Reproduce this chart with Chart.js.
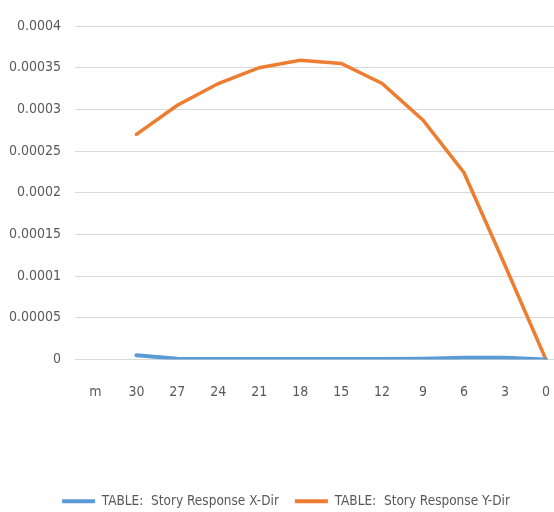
<!DOCTYPE html>
<html>
<head>
<meta charset="utf-8">
<script src="https://cdn.jsdelivr.net/npm/chart.js@4/dist/chart.umd.min.js"></script>
<style>
  html, body { margin: 0; padding: 0; background: #ffffff; overflow: hidden; width: 554px; height: 512px; }
  #wrap { position: absolute; left: 0; top: 0; width: 574px; height: 512px; }
</style>
</head>
<body>
<div id="wrap"><canvas id="c"></canvas></div>
<script>
const categories = ['m', '30', '27', '24', '21', '18', '15', '12', '9', '6', '3', '0'];
const xDir = [null, 0.000005, 0.000001, 0.0000005, 0.0000005, 0.0000005, 0.0000005, 0.0000005, 0.0000008, 0.000002, 0.000002, 0];
const yDir = [null, 0.00027, 0.000305, 0.000331, 0.00035, 0.000359, 0.000355, 0.000331, 0.000287, 0.000224, 0.000113, 0];
const seriesNames = ['TABLE:  Story Response X-Dir', 'TABLE:  Story Response Y-Dir'];
const yTicks = [0, 0.00005, 0.0001, 0.00015, 0.0002, 0.00025, 0.0003, 0.00035, 0.0004];
const yTickLabels = ['0', '0.00005', '0.0001', '0.00015', '0.0002', '0.00025', '0.0003', '0.00035', '0.0004'];

const FONT = "'Liberation Sans Narrow', 'DejaVu Sans Condensed', 'Arial Narrow', sans-serif";

new Chart(document.getElementById('c'), {
  type: 'line',
  data: {
    labels: categories,
    datasets: [
      { label: seriesNames[0], data: xDir, borderColor: '#5b9bd5', backgroundColor: '#5b9bd5', borderWidth: 4, pointRadius: 0, tension: 0, borderCapStyle: 'round' },
      { label: seriesNames[1], data: yDir, borderColor: '#ed7d31', backgroundColor: '#ed7d31', borderWidth: 3.5, pointRadius: 0, tension: 0, borderCapStyle: 'round' }
    ]
  },
  options: {
    responsive: true,
    maintainAspectRatio: false,
    animation: false,
    layout: { padding: { left: 0, right: 2, top: 26, bottom: -6 } },
    plugins: {
      legend: {
        position: 'bottom',
        labels: {
          font: { family: FONT, size: 13.5 },
          color: '#595959',
          boxWidth: 33,
          boxHeight: 4,
          padding: 16,
          generateLabels: (chart) => Chart.defaults.plugins.legend.labels.generateLabels(chart).map(l => Object.assign(l, { lineWidth: 0 }))
        }
      },
      tooltip: { enabled: false }
    },
    scales: {
      x: {
        offset: true,
        grid: { display: false, drawTicks: false },
        border: { display: true, color: '#d9d9d9', width: 1 },
        ticks: { font: { family: FONT, size: 14 }, color: '#595959', padding: 24, maxRotation: 0 },
        afterFit: (scale) => { scale.height = 119; }
      },
      y: {
        min: 0,
        max: 0.0004,
        afterBuildTicks: (scale) => { scale.ticks = yTicks.map(v => ({ value: v })); },
        afterFit: (scale) => { scale.width = 75; },
        grid: { color: '#d9d9d9', lineWidth: 1, drawTicks: false },
        border: { display: false },
        ticks: {
          font: { family: FONT, size: 14 },
          color: '#595959',
          padding: 14,
          callback: (v) => { const i = yTicks.findIndex(t => Math.abs(t - v) < 1e-12); return i >= 0 ? yTickLabels[i] : ''; }
        }
      }
    }
  }
});
</script>
</body>
</html>
